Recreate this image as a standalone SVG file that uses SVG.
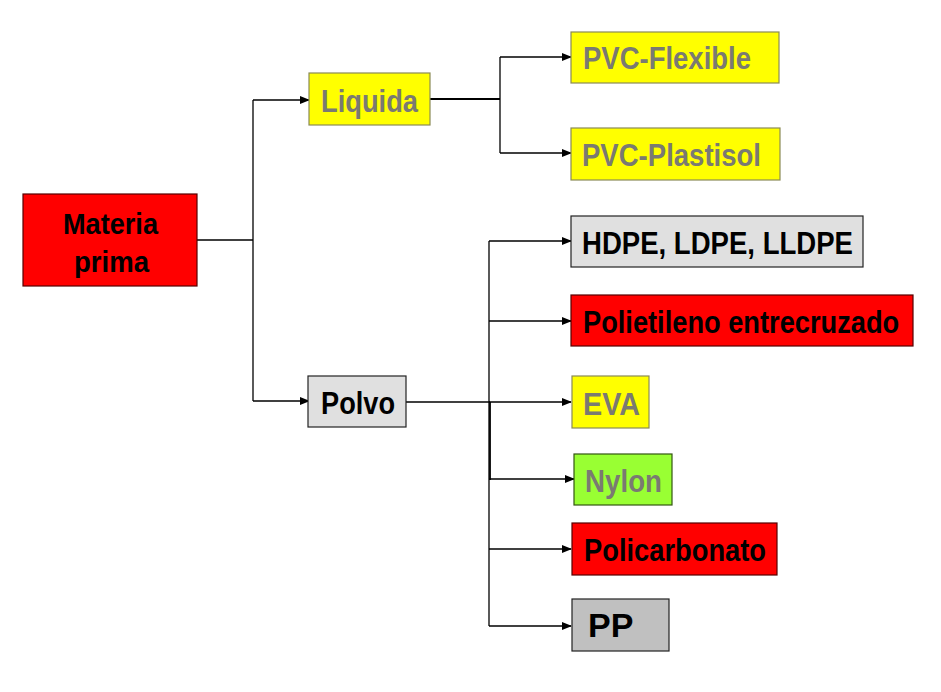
<svg xmlns="http://www.w3.org/2000/svg" width="941" height="692" viewBox="0 0 941 692">
<defs>
<marker id="ah" markerWidth="10" markerHeight="8" refX="9" refY="4" orient="auto" markerUnits="userSpaceOnUse">
<path d="M0,0 L10,4 L0,8 Z" fill="#000"/>
</marker>
<style>
.t{font-family:"Liberation Sans",Arial,sans-serif;font-weight:bold;font-size:32px}
.g{fill:#7a7a72}
.k{fill:#000}
.box{stroke-width:1.2}
.yel{fill:#FFFF00;stroke:#8a8a55}
.red{fill:#FF0000;stroke:#550000}
.lg{fill:#E0E0E0;stroke:#222}
.gr{fill:#C0C0C0;stroke:#222}
.grn{fill:#99FF33;stroke:#335511}
.ln{fill:none;stroke:#000;stroke-width:1.3}
</style>
</defs>
<rect width="941" height="692" fill="#fff"/>
<g id="connectors">
<polyline class="ln" points="197,240 253,240"/>
<polyline class="ln" points="253,100 253,401"/>
<polyline class="ln" points="253,100 309,100" marker-end="url(#ah)"/>
<polyline class="ln" points="253,401 309,401" marker-end="url(#ah)"/>
<polyline class="ln" points="430,99 500,99" style="stroke-width:2.2"/>
<polyline class="ln" points="500,57 500,153"/>
<polyline class="ln" points="500,57 571,57" marker-end="url(#ah)"/>
<polyline class="ln" points="500,153 571,153" marker-end="url(#ah)"/>
<polyline class="ln" points="405,402 490,402"/>
<polyline class="ln" points="489,241 489,626"/>
<polyline class="ln" points="490,402 490,480" style="stroke-width:1.8"/>
<polyline class="ln" points="489,241 571,241" marker-end="url(#ah)"/>
<polyline class="ln" points="489,321 571,321" marker-end="url(#ah)"/>
<polyline class="ln" points="489,402 571,402" marker-end="url(#ah)"/>
<polyline class="ln" points="489,479 574,479" marker-end="url(#ah)"/>
<polyline class="ln" points="489,549 571,549" marker-end="url(#ah)"/>
<polyline class="ln" points="489,626 571,626" marker-end="url(#ah)"/>
</g>
<g id="materia-prima">
<rect class="box red" x="23" y="194" width="174" height="92"/>
<text class="t k" x="63" y="234" style="font-size:30px" textLength="95" lengthAdjust="spacingAndGlyphs">Materia</text>
<text class="t k" x="74" y="272" style="font-size:30px" textLength="75" lengthAdjust="spacingAndGlyphs">prima</text>
</g>
<g id="liquida">
<rect class="box yel" x="309" y="73" width="121" height="52"/>
<text class="t g" x="321" y="112" textLength="97" lengthAdjust="spacingAndGlyphs">Liquida</text>
</g>
<g id="pvc-flexible">
<rect class="box yel" x="571" y="32" width="208" height="51"/>
<text class="t g" x="583" y="69" textLength="168" lengthAdjust="spacingAndGlyphs">PVC-Flexible</text>
</g>
<g id="pvc-plastisol">
<rect class="box yel" x="571" y="128" width="209" height="52"/>
<text class="t g" x="582" y="166" textLength="179" lengthAdjust="spacingAndGlyphs">PVC-Plastisol</text>
</g>
<g id="polvo">
<rect class="box lg" x="308" y="376" width="98" height="51"/>
<text class="t k" x="321" y="414" textLength="74" lengthAdjust="spacingAndGlyphs">Polvo</text>
</g>
<g id="hdpe">
<rect class="box lg" x="571" y="216" width="292" height="51"/>
<text class="t k" x="582" y="254" textLength="271" lengthAdjust="spacingAndGlyphs">HDPE, LDPE, LLDPE</text>
</g>
<g id="polietileno">
<rect class="box red" x="571" y="295" width="342" height="51"/>
<text class="t k" transform="translate(583,333) scale(0.851,1)" x="0" y="0">Polietileno entrecruzado</text>
</g>
<g id="eva">
<rect class="box yel" x="572" y="376" width="77" height="52"/>
<text class="t g" x="583" y="415" textLength="57" lengthAdjust="spacingAndGlyphs">EVA</text>
</g>
<g id="nylon">
<rect class="box grn" x="574" y="454" width="98" height="51"/>
<text class="t g" x="585" y="492" textLength="77" lengthAdjust="spacingAndGlyphs">Nylon</text>
</g>
<g id="policarbonato">
<rect class="box red" x="572" y="523" width="205" height="52"/>
<text class="t k" x="584" y="561" textLength="182" lengthAdjust="spacingAndGlyphs">Policarbonato</text>
</g>
<g id="pp">
<rect class="box gr" x="572" y="599" width="97" height="52"/>
<text class="t k" x="588" y="637" style="font-size:34px">PP</text>
</g>
</svg>
